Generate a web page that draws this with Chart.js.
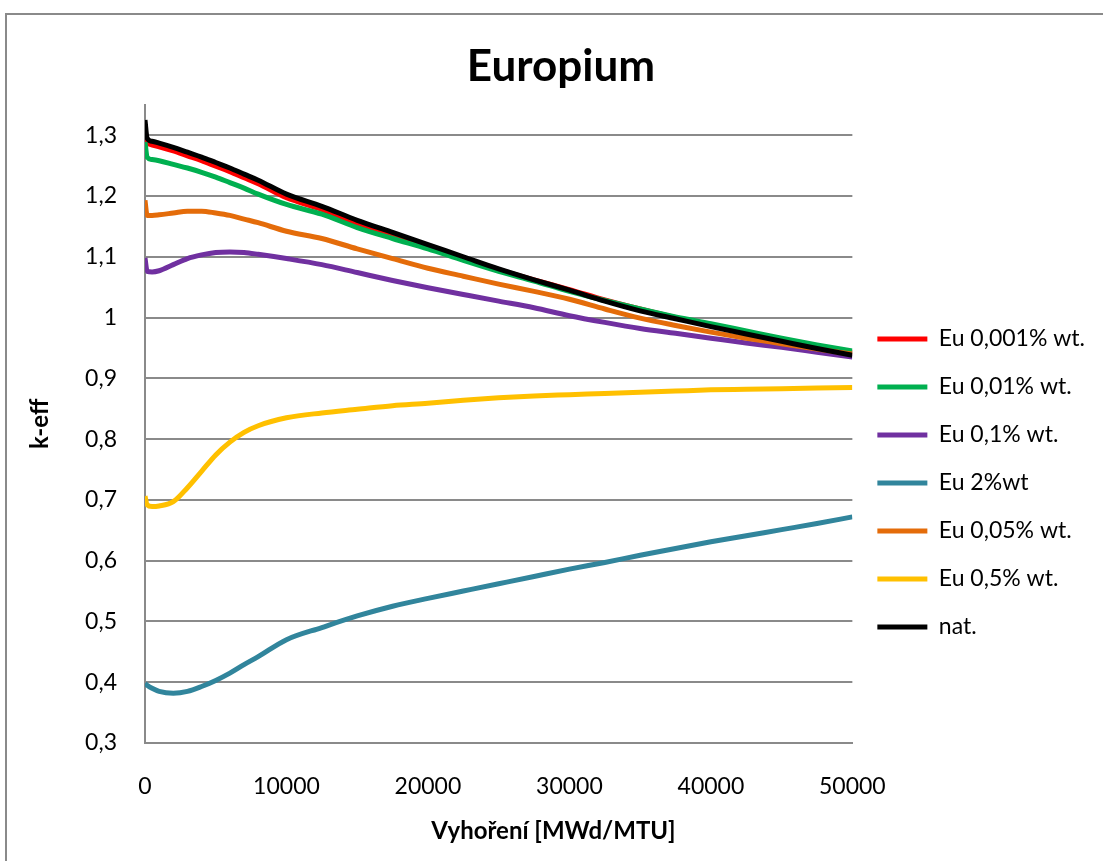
<!DOCTYPE html>
<html>
<head>
<meta charset="utf-8">
<script src="https://cdn.jsdelivr.net/npm/chart.js@4.4.1/dist/chart.umd.min.js"></script>
<style>
    body { margin: 0; overflow: hidden; background: #fff; }
    #frame { position: absolute; left: 5px; top: 13px; width: 1200px; height: 1000px;
             border-left: 2px solid #8a8a8a; border-top: 2px solid #8a8a8a; }
    #wrap { position: absolute; left: 0; top: 0; width: 1103px; height: 861px; }
</style>
</head>
<body>
<div id="frame"></div>
<div id="wrap"><canvas id="euChart" width="1103" height="861"></canvas></div>
<script>
// burnup steps [MWd/MTU]
var burnup = [0, 150, 500, 1000, 2000, 3000, 4000, 5000, 6000, 7000, 8000, 10000, 12500, 15000,
    17500, 20000, 22500, 25000, 27500, 30000, 32500, 35000, 37500, 40000, 42500, 45000, 47500, 50000];

// k-eff per Eu content
var eu0001 = [1.31, 1.288, 1.284, 1.281, 1.274, 1.266, 1.258, 1.249, 1.24, 1.23, 1.22, 1.197, 1.178, 1.155,
    1.136, 1.117, 1.098, 1.079, 1.062, 1.046, 1.029, 1.014, 1.0, 0.988, 0.976, 0.964, 0.953, 0.942];
var eu001 = [1.289, 1.264, 1.26, 1.258, 1.252, 1.246, 1.239, 1.231, 1.222, 1.213, 1.203, 1.186, 1.17, 1.148,
    1.13, 1.113, 1.094, 1.076, 1.06, 1.043, 1.028, 1.014, 1.001, 0.99, 0.978, 0.966, 0.955, 0.945];
var eu01 = [1.098, 1.076, 1.075, 1.077, 1.087, 1.097, 1.103, 1.107, 1.108, 1.107, 1.104, 1.097, 1.087, 1.074,
    1.061, 1.049, 1.038, 1.027, 1.016, 1.003, 0.992, 0.982, 0.974, 0.966, 0.958, 0.951, 0.943, 0.935];
var eu2 = [0.398, 0.395, 0.39, 0.385, 0.382, 0.385, 0.393, 0.403, 0.415, 0.429, 0.442, 0.47, 0.49, 0.509,
    0.525, 0.538, 0.55, 0.562, 0.574, 0.586, 0.597, 0.609, 0.62, 0.631, 0.641, 0.651, 0.661, 0.672];
var eu005 = [1.193, 1.168, 1.168, 1.169, 1.172, 1.175, 1.175, 1.172, 1.168, 1.162, 1.156, 1.142, 1.13, 1.113,
    1.097, 1.081, 1.068, 1.055, 1.043, 1.03, 1.014, 0.999, 0.987, 0.976, 0.966, 0.957, 0.948, 0.94];
var eu05 = [0.706, 0.692, 0.689, 0.69, 0.697, 0.72, 0.747, 0.774, 0.795, 0.811, 0.822, 0.835, 0.843, 0.849,
    0.855, 0.859, 0.864, 0.868, 0.871, 0.873, 0.875, 0.877, 0.879, 0.881, 0.882, 0.883, 0.884, 0.885];
var nat = [1.325, 1.295, 1.29, 1.287, 1.28, 1.272, 1.264, 1.255, 1.246, 1.236, 1.226, 1.203, 1.183, 1.16,
    1.14, 1.12, 1.1, 1.08, 1.062, 1.045, 1.027, 1.011, 0.998, 0.985, 0.973, 0.961, 0.949, 0.938];

var seriesNames = ['Eu 0,001% wt.', 'Eu 0,01% wt.', 'Eu 0,1% wt.', 'Eu 2%wt', 'Eu 0,05% wt.', 'Eu 0,5% wt.', 'nat.'];
var seriesValues = [eu0001, eu001, eu01, eu2, eu005, eu05, nat];
var seriesColors = ['#ff0000', '#00b050', '#7030a0', '#31859c', '#e46c0a', '#ffc000', '#000000'];

var xTicks = [0, 10000, 20000, 30000, 40000, 50000];
var yTicks = [0.3, 0.4, 0.5, 0.6, 0.7, 0.8, 0.9, 1.0, 1.1, 1.2, 1.3];

var FONT = 'Lato, "Open Sans", sans-serif';
var GRID = '#8a8a8a';

var datasets = seriesValues.map(function (vals, i) {
    return {
        label: seriesNames[i],
        data: vals.map(function (v, j) { return { x: burnup[j], y: v }; }),
        borderColor: seriesColors[i],
        backgroundColor: seriesColors[i],
        borderWidth: 5,
        pointRadius: 0,
        cubicInterpolationMode: 'monotone',
        order: seriesValues.length - i   // later series on top, like Excel
    };
});

// axis titles
var axisTitles = {
    id: 'axisTitles',
    afterDraw: function (chart) {
        var ctx = chart.ctx;
        var area = chart.chartArea;
        ctx.save();
        ctx.fillStyle = '#000';
        ctx.font = 'bold 24px ' + FONT;
        ctx.textAlign = 'center';
        ctx.textBaseline = 'middle';
        ctx.fillText('Vyhoření [MWd/MTU]', chart.width / 2 + 2, 831);
        ctx.translate(40, (area.top + area.bottom) / 2);
        ctx.rotate(-Math.PI / 2);
        ctx.fillText('k-eff', 0, 0);
        ctx.restore();
    }
};

new Chart(document.getElementById('euChart').getContext('2d'), {
    type: 'line',
    data: { datasets: datasets },
    plugins: [axisTitles],
    options: {
        responsive: false,
        animation: false,
        layout: { padding: { left: 27, right: 8, top: 0, bottom: 0 } },
        plugins: {
            title: {
                display: true,
                text: 'Europium',
                color: '#000',
                font: { family: FONT, size: 44, weight: 'bold' },
                padding: { top: 40, bottom: 12 }
            },
            legend: {
                position: 'right',
                title: { display: true, text: ' ', font: { size: 10 }, padding: { top: 93, bottom: 0 } },
                labels: {
                    color: '#000',
                    font: { family: FONT, size: 23 },
                    boxWidth: 50,
                    boxHeight: 5,
                    padding: 25,
                    sort: function (a, b) { return a.datasetIndex - b.datasetIndex; },
                    generateLabels: function (chart) {
                        return Chart.defaults.plugins.legend.labels.generateLabels(chart).map(function (item) {
                            item.lineWidth = 0;
                            item.fillStyle = seriesColors[item.datasetIndex];
                            return item;
                        });
                    }
                }
            },
            tooltip: { enabled: false }
        },
        scales: {
            x: {
                type: 'linear',
                min: 0,
                max: 50000,
                afterBuildTicks: function (scale) {
                    scale.ticks = xTicks.map(function (v) { return { value: v }; });
                },
                afterFit: function (scale) { scale.height = 118; },
                grid: { display: false, drawTicks: false },
                border: { display: true, color: GRID, width: 2 },
                ticks: {
                    color: '#000',
                    font: { family: FONT, size: 23 },
                    padding: 30,
                    maxRotation: 0,
                    callback: function (v) { return String(v); }
                }
            },
            y: {
                min: 0.3,
                max: 1.35,
                afterBuildTicks: function (scale) {
                    scale.ticks = yTicks.map(function (v) { return { value: v }; });
                },
                afterFit: function (scale) { scale.width = 118; },
                grid: { color: GRID, lineWidth: 2, drawTicks: false },
                border: { display: true, color: GRID, width: 2 },
                ticks: {
                    color: '#000',
                    font: { family: FONT, size: 23 },
                    padding: 28,
                    callback: function (v) {
                        return String(Math.round(v * 10) / 10).replace('.', ',');
                    }
                }
            }
        }
    }
});
</script>
</body>
</html>
